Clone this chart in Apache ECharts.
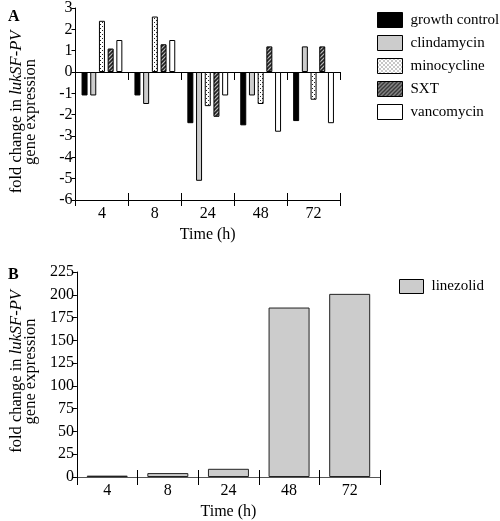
<!DOCTYPE html>
<html><head><meta charset="utf-8">
<script src="https://cdn.jsdelivr.net/npm/echarts@6/dist/echarts.min.js"></script>
<style>html,body{margin:0;padding:0;background:#fff}#c{width:500px;height:521px}</style>
</head><body><div id="c"></div>
<script>
const categories = ['4', '8', '24', '48', '72'];
const growthControl = [-1.1, -1.1, -2.4, -2.5, -2.3];
const clindamycin = [-1.1, -1.5, -5.1, -1.1, 1.2];
const minocycline = [2.4, 2.6, -1.6, -1.5, -1.3];
const sxt = [1.1, 1.3, -2.1, 1.2, 1.2];
const vancomycin = [1.5, 1.5, -1.1, -2.8, -2.4];
const linezolid = [1.5, 4.3, 9, 186, 201];
const seriesNamesA = ['growth control', 'clindamycin', 'minocycline', 'SXT', 'vancomycin'];

function dotPattern() {
  const c = document.createElement('canvas'); c.width = 4; c.height = 4;
  const g = c.getContext('2d');
  g.fillStyle = '#fff'; g.fillRect(0, 0, 4, 4);
  g.fillStyle = '#222'; g.fillRect(0, 0, 1, 1); g.fillRect(2, 2, 1, 1);
  return { image: c, repeat: 'repeat' };
}
function hatchPattern() {
  const s = 4;
  const c = document.createElement('canvas'); c.width = s; c.height = s;
  const g = c.getContext('2d');
  g.fillStyle = '#bbb'; g.fillRect(0, 0, s, s);
  g.strokeStyle = '#222'; g.lineWidth = 1.6;
  g.beginPath();
  g.moveTo(-1, s + 1); g.lineTo(s + 1, -1);
  g.moveTo(-1, 1); g.lineTo(1, -1);
  g.moveTo(s - 1, s + 1); g.lineTo(s + 1, s - 1);
  g.stroke();
  return { image: c, repeat: 'repeat' };
}

const FONT = 'Liberation Serif';
const fills = ['#000', '#cccccc', dotPattern(), hatchPattern(), '#fff'];
const dataA = [growthControl, clindamycin, minocycline, sxt, vancomycin];

const chart = echarts.init(document.getElementById('c'), null, { renderer: 'canvas' });

const axisLineBlack = { lineStyle: { color: '#000', width: 1 } };
function xAx(grid, opts) {
  return Object.assign({
    type: 'category', gridIndex: grid, data: categories,
    axisLine: Object.assign({ onZero: false }, axisLineBlack),
    axisTick: { show: true, length: 6, lineStyle: { color: '#000' } },
    axisLabel: { show: false },
    splitLine: { show: false }
  }, opts);
}
function yName(pad) {
  return {
    name: 'fold change in {i|lukSF-PV}\ngene expression', nameLocation: 'middle', nameRotate: 90, nameGap: 38,
    nameTextStyle: { fontFamily: FONT, fontSize: 16.5, color: '#000', lineHeight: 14, align: 'center', padding: pad,
      rich: { i: { fontFamily: FONT, fontSize: 16.5, fontStyle: 'italic', color: '#000' } } }
  };
}

const legendText = { fontFamily: FONT, fontSize: 15, color: '#000', padding: [0, 0, 0, 3] };

const option = {
  backgroundColor: '#fff',
  animation: false,
  textStyle: { fontFamily: FONT },
  title: [
    { text: 'A', left: 3, top: 4, textStyle: { fontFamily: FONT, fontWeight: 'bold', fontSize: 16, color: '#000' } },
    { text: 'B', left: 3, top: 262, textStyle: { fontFamily: FONT, fontWeight: 'bold', fontSize: 16, color: '#000' } }
  ],
  legend: [
    {
      data: seriesNamesA, orient: 'vertical', left: 377, top: 12, padding: 0,
      icon: 'rect', itemWidth: 25, itemHeight: 15, itemGap: 7,
      textStyle: legendText,
      itemStyle: { borderColor: '#000', borderWidth: 1 }
    },
    {
      data: ['linezolid'], orient: 'vertical', left: 399, top: 279, padding: 0,
      icon: 'rect', itemWidth: 24, itemHeight: 14,
      textStyle: legendText,
      itemStyle: { borderColor: '#000', borderWidth: 1 }
    }
  ],
  grid: [
    { left: 70, top: 7, width: 270, height: 193 },
    { left: 70, top: 272, width: 310, height: 207 }
  ],
  xAxis: [
    xAx(0, {
      position: 'bottom',
      axisLabel: { show: true, fontFamily: FONT, fontSize: 16, color: '#000', margin: 6 },
      name: 'Time (h)', nameLocation: 'middle', nameGap: 27,
      nameTextStyle: { fontFamily: FONT, fontSize: 16, color: '#000' }
    }),
    xAx(0, { position: 'bottom', axisTick: { show: true, inside: true, length: 6, lineStyle: { color: '#000' } } }),
    xAx(0, { position: 'bottom', axisLine: Object.assign({ onZero: true }, axisLineBlack), axisTick: { show: true, length: 8, lineStyle: { color: '#000' } } }),
    xAx(0, { position: 'bottom', axisLine: Object.assign({ onZero: true }, axisLineBlack), axisTick: { show: true, inside: true, length: 7, lineStyle: { color: '#000' } } }),
    xAx(1, {
      position: 'bottom',
      axisLine: { onZero: false, lineStyle: { color: '#555', width: 1.2 } },
      axisTick: { show: true, length: 8, lineStyle: { color: '#000' } },
      axisLabel: { show: true, fontFamily: FONT, fontSize: 16, color: '#000', margin: 6 },
      name: 'Time (h)', nameLocation: 'middle', nameGap: 27,
      nameTextStyle: { fontFamily: FONT, fontSize: 16, color: '#000' }
    }),
    xAx(1, { position: 'bottom', axisLine: { onZero: false, lineStyle: { color: '#555', width: 1.2 } }, axisTick: { show: true, inside: true, length: 7, lineStyle: { color: '#000' } } })
  ],
  yAxis: [
    Object.assign({
      type: 'value', gridIndex: 0, min: -6, max: 3, interval: 1,
      axisLine: { show: true, lineStyle: { color: '#000' } },
      axisTick: { show: true, length: 4, lineStyle: { color: '#000' } },
      axisLabel: { fontFamily: FONT, fontSize: 16, color: '#000', margin: 3 },
      splitLine: { show: false }
    }, yName([0, 16, 0, 0])),
    Object.assign({
      type: 'value', gridIndex: 1, min: 0, max: 225, interval: 25,
      axisLine: { show: true, lineStyle: { color: '#000' } },
      axisTick: { show: true, length: 4, lineStyle: { color: '#000' } },
      axisLabel: { fontFamily: FONT, fontSize: 16, color: '#000', margin: 3 },
      splitLine: { show: false }
    }, yName([0, 0, 0, 6]))
  ],
  series: seriesNamesA.map((n, i) => ({
    name: n, type: 'bar', xAxisIndex: 0, yAxisIndex: 0,
    data: dataA[i], barWidth: 6, barGap: '45%',
    itemStyle: { color: fills[i], borderColor: '#000', borderWidth: 1 }
  })).concat([{
    name: 'linezolid', type: 'bar', xAxisIndex: 4, yAxisIndex: 1,
    data: linezolid, barWidth: 41,
    itemStyle: { color: '#cccccc', borderColor: '#222', borderWidth: 1 }
  }])
};
chart.setOption(option);
</script>
</body></html>
